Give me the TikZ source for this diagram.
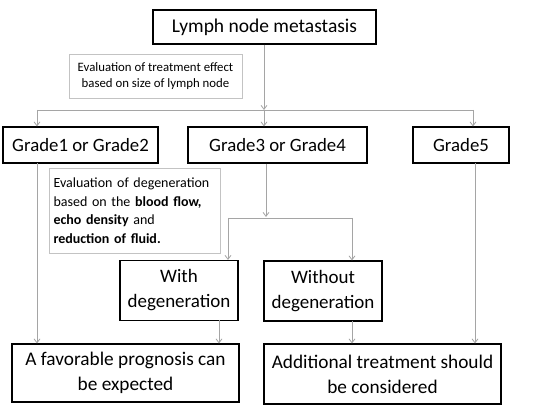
\documentclass[tikz,border=0pt]{standalone}
\usepackage{fontspec}
\setmainfont{Carlito}
\usetikzlibrary{arrows.meta}
\definecolor{linegray}{RGB}{165,165,165}
\definecolor{boxgray}{RGB}{195,195,195}
\begin{document}
\begin{tikzpicture}[x=1pt,y=-1pt,
  mainbox/.style={draw=black,line width=1.1pt,inner sep=0pt,align=center,font=\fontsize{18.8}{22}\selectfont},
  notebox/.style={draw=boxgray,line width=0.9pt,inner sep=0pt},
  conn/.style={draw=linegray,line width=0.8pt},
  arr/.style={conn,-{Straight Barb[length=4pt,width=6pt]}}]
\useasboundingbox (0,0) rectangle (550,411);
\fill[white] (0,0) rectangle (550,411);
% boxes
\node[mainbox,minimum width=223pt,minimum height=34pt,font=\fontsize{19.5}{22}\selectfont] (top) at (264.5,27) {Lymph node metastasis};
\node[notebox,minimum width=173pt,minimum height=44pt,align=center,font=\fontsize{12.8}{16}\selectfont] (n1) at (155.5,76) {Evaluation of treatment effect\\based on size of lymph node};
\node[mainbox,minimum width=155pt,minimum height=36pt] (g1) at (80.5,145) {Grade1 or Grade2};
\node[mainbox,minimum width=179pt,minimum height=36pt] (g3) at (277.5,145) {Grade3 or Grade4};
\node[mainbox,minimum width=96pt,minimum height=36pt] (g5) at (461,145) {Grade5};
\node[notebox,minimum width=171pt,minimum height=85pt,align=left,text width=163pt,font=\fontsize{14}{18.5}\selectfont] (n2) at (135,210.5) {Evaluation of degeneration\\based on the \textbf{blood flow,}\\\textbf{echo density} and\\\textbf{reduction of fluid.}};
\node[mainbox,minimum width=118pt,minimum height=60pt,font=\fontsize{19}{25}\selectfont] (with) at (179,290.5) {With\\degeneration};
\node[mainbox,minimum width=118pt,minimum height=60pt,font=\fontsize{19}{25}\selectfont] (without) at (323,291) {Without\\degeneration};
\node[mainbox,minimum width=227pt,minimum height=58pt,font=\fontsize{19.3}{25}\selectfont] (fav) at (125.5,373) {A favorable prognosis can\\be expected};
\node[mainbox,minimum width=237pt,minimum height=60pt,font=\fontsize{19.3}{25}\selectfont] (add) at (382.5,374) {Additional treatment should\\be considered};
% coordinates
\coordinate (j1) at (264,110);
\coordinate (hl) at (37,110);
\coordinate (hr) at (473,110);
\coordinate (j2) at (266,217);
\coordinate (wl) at (228,218);
\coordinate (wr) at (352,218);
\coordinate (c1) at (37,163);
\coordinate (c2) at (219,320);
\coordinate (c3) at (352,321);
\coordinate (c4) at (475,163);
% connectors
\draw[arr] (top.south -| j1) -- (j1);
\draw[conn] (hl) -- (hr);
\draw[arr] (hl) -- (hl |- g1.north);
\draw[arr] (j1) -- (j1 |- g3.north);
\draw[arr] (hr) -- (hr |- g5.north);
\draw[arr] (g3.south -| j2) -- (j2);
\draw[conn] (wl) -- (wr);
\draw[arr] (wl) -- (wl |- with.north);
\draw[arr] (wr) -- (wr |- without.north);
\draw[arr] (c1) -- (c1 |- fav.north);
\draw[arr] (c2) -- (c2 |- fav.north);
\draw[arr] (c3) -- (c3 |- add.north);
\draw[arr] (c4) -- (c4 |- add.north);
\end{tikzpicture}
\end{document}
